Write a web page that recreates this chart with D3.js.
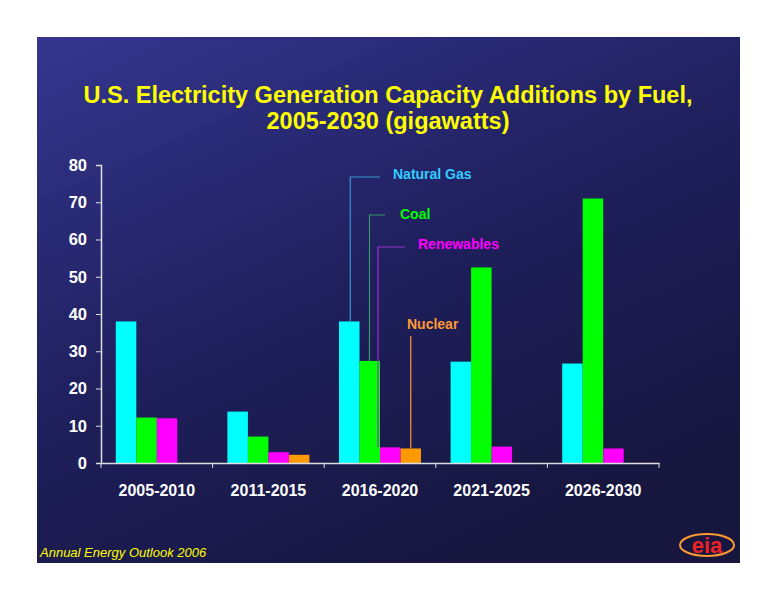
<!DOCTYPE html>
<html><head><script src="https://cdn.jsdelivr.net/npm/d3@7"></script>
<style>body{margin:0;background:#fff}</style></head>
<body><svg width="776" height="600"></svg>
<script>
const periods = ["2005-2010", "2011-2015", "2016-2020", "2021-2025", "2026-2030"];
const fuels = ["Natural Gas", "Coal", "Renewables", "Nuclear"];
const colors = ["#00ffff", "#00ff00", "#ff00ff", "#ff9900"];
const gas = [38, 13.8, 38, 27.2, 26.7];
const coal = [12.2, 7.1, 27.4, 52.5, 71];
const renew = [12, 2.9, 4.2, 4.4, 3.9];
const nuclear = [0, 2.2, 3.9, 0, 0];
const series = [gas, coal, renew, nuclear];
const yTicks = [0, 10, 20, 30, 40, 50, 60, 70, 80];

const svg = d3.select("svg");
const defs = svg.append("defs");
const g = defs.append("linearGradient").attr("id", "bg").attr("x1", 0).attr("y1", 0).attr("x2", 0.6).attr("y2", 1);
g.append("stop").attr("offset", "0%").attr("stop-color", "#34368f");
g.append("stop").attr("offset", "55%").attr("stop-color", "#1f1f5c");
g.append("stop").attr("offset", "100%").attr("stop-color", "#16163f");
svg.append("rect").attr("x", 37).attr("y", 37).attr("width", 703).attr("height", 526).attr("fill", "url(#bg)");

svg.append("text").attr("x", 388).attr("y", 103).attr("text-anchor", "middle")
  .attr("font-family", "Liberation Sans, Arial").attr("font-weight", "bold").attr("font-size", 23.5)
  .attr("fill", "#ffff00").text("U.S. Electricity Generation Capacity Additions by Fuel,");
svg.append("text").attr("x", 388).attr("y", 129).attr("text-anchor", "middle")
  .attr("font-family", "Liberation Sans, Arial").attr("font-weight", "bold").attr("font-size", 23.5)
  .attr("fill", "#ffff00").text("2005-2030 (gigawatts)");

const x0 = d3.scaleBand().domain(periods).range([101, 659]);
const x1 = d3.scaleBand().domain(d3.range(4)).range([0, 82]);
const off = (x0.bandwidth() - 82) / 2;
const y = d3.scaleLinear().domain([0, 80]).range([463, 165]);

series.forEach((vals, i) => {
  svg.append("g").selectAll("rect").data(vals).join("rect")
    .attr("x", (d, j) => x0(periods[j]) + off + x1(i))
    .attr("y", d => y(d)).attr("width", x1.bandwidth()).attr("height", d => y(0) - y(d))
    .attr("fill", colors[i]);
});

const ya = svg.append("g").attr("transform", "translate(101,0)")
  .call(d3.axisLeft(y).tickValues(yTicks).tickSize(5).tickPadding(9));
ya.selectAll("text").attr("font-family", "Liberation Sans, Arial").attr("font-weight", "bold")
  .attr("font-size", 16.5).attr("fill", "#fff");
const xa = svg.append("g").attr("transform", "translate(0,463)")
  .call(d3.axisBottom(x0).tickSize(0).tickPadding(22));
xa.selectAll("text").attr("font-family", "Liberation Sans, Arial").attr("font-weight", "bold")
  .attr("font-size", 16).attr("fill", "#fff");
svg.append("g").selectAll("line").data(periods.concat([null])).join("line")
  .attr("x1", (d, j) => 101 + j * x0.bandwidth()).attr("x2", (d, j) => 101 + j * x0.bandwidth())
  .attr("y1", 463).attr("y2", 468).attr("stroke", "#ddd");
svg.selectAll(".domain").attr("stroke", "#ddd").attr("stroke-width", 1.5);
ya.selectAll(".tick line").attr("stroke", "#ddd");

// callouts on 2016-2020 group
const p = periods[2];
const cx = i => x0(p) + off + x1(i) + x1.bandwidth() / 2;
const lab = [
  {i: 0, ly: 177, lx: 380, tx: 393, ty: 179, c: "#33ccff", lc: "#3399cc"},
  {i: 1, ly: 215, lx: 385, tx: 400, ty: 219, c: "#00ff00", lc: "#339966"},
  {i: 2, ly: 247, lx: 405, tx: 418, ty: 249, c: "#ff00ff", lc: "#9933cc"}
];
lab.forEach(o => {
  const bx = o.i === 0 ? cx(0) + 1 : x0(p) + off + x1(o.i) + (o.i === 1 ? 10 : -2);
  svg.append("polyline").attr("fill", "none").attr("stroke", o.lc).attr("stroke-width", 1.2)
    .attr("points", `${bx},${y(series[o.i][2])} ${bx},${o.ly} ${o.lx},${o.ly}`);
  svg.append("text").attr("x", o.tx).attr("y", o.ty).attr("font-family", "Liberation Sans, Arial")
    .attr("font-weight", "bold").attr("font-size", 14).attr("fill", o.c).text(fuels[o.i]);
});
svg.append("line").attr("x1", cx(3)).attr("x2", cx(3)).attr("y1", 336).attr("y2", y(nuclear[2]))
  .attr("stroke", "#ff9933").attr("stroke-width", 1.2);
svg.append("text").attr("x", 407).attr("y", 329).attr("font-family", "Liberation Sans, Arial")
  .attr("font-weight", "bold").attr("font-size", 14).attr("fill", "#ff9933").text("Nuclear");

svg.append("text").attr("x", 40).attr("y", 557).attr("font-family", "Liberation Sans, Arial")
  .attr("font-style", "italic").attr("font-size", 13).attr("fill", "#ffff00").text("Annual Energy Outlook 2006");

// eia logo
svg.append("ellipse").attr("cx", 707).attr("cy", 545).attr("rx", 27).attr("ry", 11)
  .attr("fill", "none").attr("stroke", "#ff9933").attr("stroke-width", 2);
svg.append("text").attr("x", 707).attr("y", 553).attr("text-anchor", "middle")
  .attr("font-family", "Liberation Sans, Arial").attr("font-weight", "bold").attr("font-size", 22)
  .attr("fill", "#ee2222").text("eia");
</script></body></html>
